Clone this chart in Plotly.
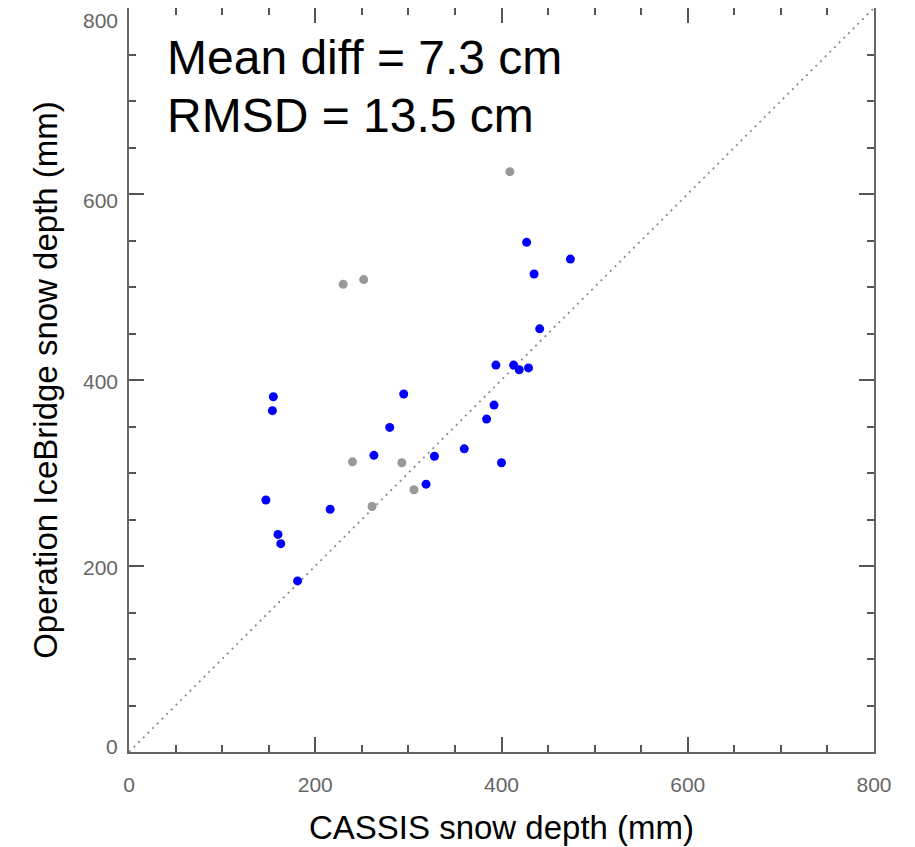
import plotly.graph_objects as go

# CASSIS vs OIB snow depth (mm)
blue_x = [155, 154, 295, 280, 263, 328, 319, 147, 216, 160, 163, 181,
          427, 474, 435, 441, 394, 413, 419, 429, 392, 384, 360, 400]
blue_y = [382, 367, 385, 349, 319, 318, 288, 271, 261, 234, 224, 184,
          548, 530, 514, 455, 416, 416, 411, 413, 373, 358, 326, 311]

gray_x = [230, 252, 240, 293, 306, 261, 409]
gray_y = [503, 508, 312, 311, 282, 264, 624]

one_to_one = [0, 800]
tick_vals = [0, 200, 400, 600, 800]
stats_lines = ['Mean diff = 7.3 cm', 'RMSD = 13.5 cm']

# the y tick labels in the original sit a little off their ticks at the ends
ylabel_shift = {0: 6, 200: -1, 400: -1, 600: -6, 800: -12}

FONT = 'Liberation Sans, Arial, Helvetica, sans-serif'
LABEL_GREY = '#666666'

fig = go.Figure()

# 1:1 line
fig.add_trace(go.Scatter(
    x=one_to_one, y=one_to_one, mode='lines',
    line=dict(color='#8a8a8a', width=1.8, dash='2px,4.6px'),
    hoverinfo='skip'
))

fig.add_trace(go.Scatter(
    x=gray_x, y=gray_y, mode='markers',
    marker=dict(color='#999999', size=9, line=dict(width=0))
))
fig.add_trace(go.Scatter(
    x=blue_x, y=blue_y, mode='markers',
    marker=dict(color='#0000ff', size=9, line=dict(width=0))
))

axis_style = dict(
    range=[0, 800],
    tickvals=tick_vals,
    ticks='inside',
    ticklen=15,
    tickwidth=1.5,
    tickcolor='#555555',
    minor=dict(dtick=50, ticks='inside', ticklen=7, tickwidth=1.5, tickcolor='#555555'),
    showline=True,
    linecolor='#666666',
    linewidth=1.5,
    mirror='allticks',
    showgrid=False,
    zeroline=False,
    automargin=False,
    ticklabeloverflow='allow',
    tickfont=dict(family=FONT, size=21, color=LABEL_GREY),
)

fig.update_xaxes(
    **axis_style,
    ticklabelstandoff=13,
    title=dict(text='CASSIS snow depth (mm)', standoff=21,
               font=dict(family=FONT, size=33, color='#000000')),
)
fig.update_yaxes(
    **axis_style,
    showticklabels=False,
    title=dict(text='Operation IceBridge snow depth (mm)', standoff=60,
               font=dict(family=FONT, size=33, color='#000000')),
)

# y tick labels as text so the end ones can be nudged like the original
for v in tick_vals:
    fig.add_annotation(
        text=str(v), xref='x', yref='y', x=0, y=v,
        xanchor='right', yanchor='middle', xshift=-9, yshift=ylabel_shift[v],
        showarrow=False, font=dict(family=FONT, size=21, color=LABEL_GREY)
    )

# stats text in the upper left corner
for txt, yp in zip(stats_lines, [0.934, 0.855]):
    fig.add_annotation(
        text=txt, xref='paper', yref='paper', x=0.048, y=yp,
        xanchor='left', yanchor='middle', showarrow=False,
        font=dict(family=FONT, size=48, color='#000000')
    )

# the page puts the figure 8px in from the corner, so size it to fit
fig.update_layout(
    width=907, height=839,
    margin=dict(l=121, r=41, t=0, b=95),
    plot_bgcolor='white',
    paper_bgcolor='white',
    showlegend=False,
    font=dict(family=FONT),
)

fig.write_html('out.html')
